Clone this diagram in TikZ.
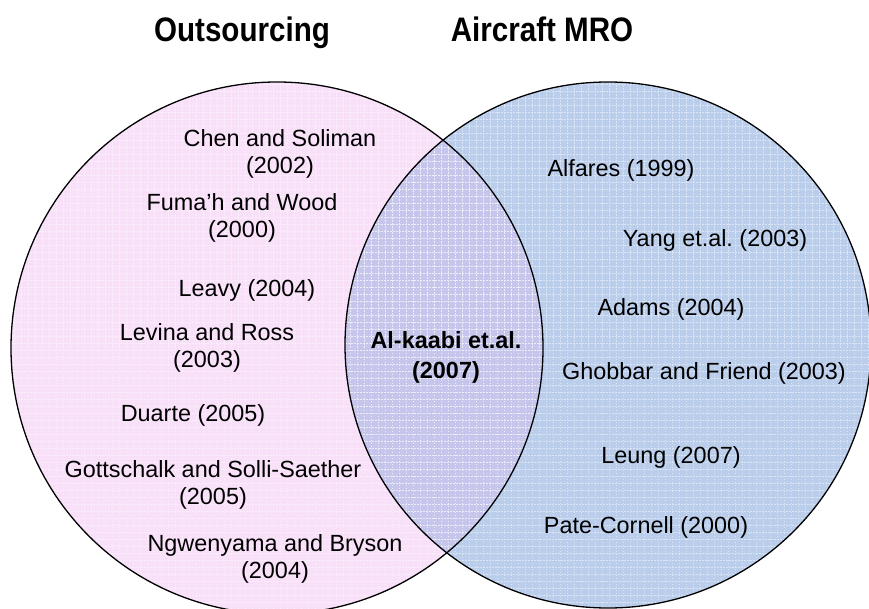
\documentclass[tikz,border=0pt]{standalone}
\usepackage{fontspec}
\setmainfont{Liberation Sans}
\definecolor{pinkfill}{RGB}{249,224,249}
\definecolor{bluefill}{RGB}{186,206,236}
\definecolor{lavfill}{RGB}{198,198,236}
% two centred lines, anchored on the baseline of the first one
\newcommand\twoline[2]{\begin{tabular}[t]{@{}c@{}}#1\\#2\end{tabular}}
\frenchspacing
\begin{document}
\begin{tikzpicture}[x=1pt,y=-1pt,
  setline/.style={line width=1.3pt,draw=black},
  texture/.style={draw=white,line width=0.6pt,dash pattern=on 1.5pt off 1.5pt,opacity=0.45},
  title/.style={font=\bfseries\fontsize{34}{40}\selectfont,anchor=base,inner sep=0pt},
  ref/.style={font=\fontsize{23.4}{27}\selectfont,anchor=base,inner sep=0pt},
  keyref/.style={font=\bfseries\fontsize{23.4}{30}\selectfont,anchor=base,inner sep=0pt}]
\useasboundingbox (0,0) rectangle (869,609);
\clip (0,0) rectangle (869,609);

% the two sets
\coordinate (cA) at (277,348);
\coordinate (cB) at (608,345);
\fill[pinkfill] (cA) circle[radius=266pt];
\fill[bluefill] (cB) circle[radius=263pt];
\begin{scope}
  \clip (cA) circle[radius=266pt];
  \fill[lavfill] (cB) circle[radius=263pt];
\end{scope}
% light grid texture inside both sets
\begin{scope}
  \clip (cA) circle[radius=266pt];
  \draw[texture] (0,0) grid[step=7pt] (869,609);
\end{scope}
\begin{scope}
  \clip (cB) circle[radius=263pt];
  \draw[texture] (0,0) grid[step=7pt] (869,609);
\end{scope}
\draw[setline] (cA) circle[radius=266pt];
\draw[setline] (cB) circle[radius=263pt];

% headings
\node[title] (tA) at (242,42) {\scalebox{0.87}[1]{Outsourcing}};
\node[title] (tB) at (542,42) {\scalebox{0.87}[1]{Aircraft MRO}};

% outsourcing literature
\node[ref] (chen)   at (280,147) {\twoline{Chen and Soliman}{(2002)}};
\node[ref] (fumah)  at (242,211) {\twoline{Fuma’h and Wood}{(2000)}};
\node[ref] (leavy)  at (247,296) {Leavy (2004)};
\node[ref] (levina) at (207,340) {\twoline{Levina and Ross}{(2003)}};
\node[ref] (duarte) at (193,421) {Duarte (2005)};
\node[ref] (gott)   at (213,477) {\twoline{Gottschalk and Solli-Saether}{(2005)}};
\node[ref] (ngw)    at (275,551) {\twoline{Ngwenyama and Bryson}{(2004)}};

% aircraft MRO literature
\node[ref] (alfares) at (621,177) {Alfares (1999)};
\node[ref] (yang)    at (715,247) {Yang et.al. (2003)};
\node[ref] (adams)   at (671,315) {Adams (2004)};
\node[ref] (ghobbar) at (704,379) {Ghobbar and Friend (2003)};
\node[ref] (leung)   at (671,463) {Leung (2007)};
\node[ref] (pate)    at (646,533) {Pate-Cornell (2000)};

% overlap
\node[keyref] (alk) at (446,348) {\twoline{Al-kaabi et.al.}{(2007)}};
\end{tikzpicture}
\end{document}
